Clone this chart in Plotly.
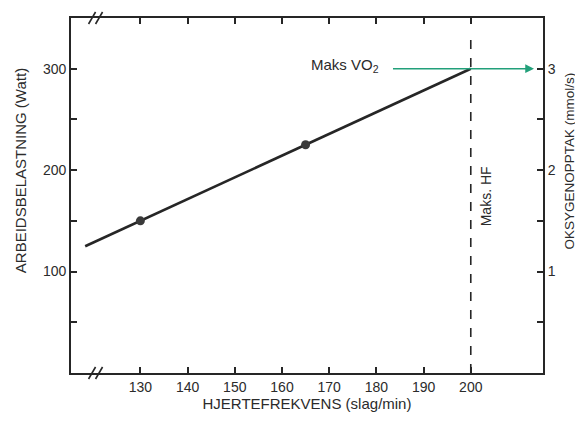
import plotly.graph_objects as go

# Data
line_hr = [118.3, 200]          # heart rate (slag/min)
line_watt = [125, 300]          # workload (Watt)
point_hr = [130, 165]
point_watt = [150, 225]
maxhf_x = [200, 200]
maxhf_y = [0, 330]
vo2_arrow_start = 183.2
vo2_arrow_end = 213.4
vo2_level = 300
break_x = 120.5

x_ticks = [130, 140, 150, 160, 170, 180, 190, 200]
y_ticks = [50, 100, 150, 200, 250, 300]
y_ticktext = ["", "100", "", "200", "", "300"]
y2_ticks = [0.5, 1, 1.5, 2, 2.5, 3]
y2_ticktext = ["", "1", "", "2", "", "3"]

FONT = "Liberation Sans, Arial, sans-serif"
DARK = "#262626"
TXT = "#2b2b2b"
GREEN = "#22a07a"

fig = go.Figure()
fig.add_trace(go.Scatter(x=line_hr, y=line_watt, mode="lines",
                         line=dict(color=DARK, width=2.6), showlegend=False))
fig.add_trace(go.Scatter(x=point_hr, y=point_watt, mode="markers",
                         marker=dict(color="#3a3a3a", size=9), showlegend=False))
fig.add_trace(go.Scatter(x=maxhf_x, y=maxhf_y, mode="lines",
                         line=dict(color=DARK, width=1.6, dash="dash"), showlegend=False))
# invisible trace for secondary axis
fig.add_trace(go.Scatter(x=[200], y=[3], yaxis="y2", mode="markers",
                         marker=dict(opacity=0), showlegend=False, hoverinfo="skip"))

fig.add_annotation(x=vo2_arrow_end, y=vo2_level, ax=vo2_arrow_start, ay=vo2_level,
                   xref="x", yref="y", axref="x", ayref="y", text="",
                   showarrow=True, arrowhead=2, arrowsize=1.1, arrowwidth=1.6,
                   arrowcolor=GREEN)
fig.add_annotation(x=vo2_arrow_start, y=vo2_level, xref="x", yref="y",
                   text="Maks VO<sub>2</sub>", showarrow=False, xanchor="right",
                   xshift=-10, yshift=3, font=dict(family=FONT, size=15, color=TXT))
fig.add_annotation(x=200, y=174, xref="x", yref="y", text="Maks. HF",
                   textangle=-90, showarrow=False, xanchor="left", xshift=5,
                   font=dict(family=FONT, size=14, color=TXT))
# axis break marks (two slashes across bottom and top axis lines)
for yp in [0, 1]:
    for dx in [-3.5, 3.5]:
        fig.add_shape(type="line", xref="x", yref="paper", xsizemode="pixel",
                      ysizemode="pixel", xanchor=break_x, yanchor=yp,
                      x0=dx - 3.5, x1=dx + 3.5, y0=-6, y1=6,
                      line=dict(color=DARK, width=1.6))
# y-axis titles
fig.add_annotation(x=-0.108, y=199, xref="paper", yref="y", text="ARBEIDSBELASTNING (Watt)",
                   textangle=-90, showarrow=False, xanchor="center", yanchor="middle",
                   font=dict(family=FONT, size=15, color=TXT))
fig.add_annotation(x=1.056, y=209, xref="paper", yref="y", text="OKSYGENOPPTAK (mmol/s)",
                   textangle=-90, showarrow=False, xanchor="center", yanchor="middle",
                   font=dict(family=FONT, size=13.5, color=TXT))

fig.update_layout(
    width=575, height=413,
    margin=dict(l=63, r=40, t=10, b=48, autoexpand=False),
    paper_bgcolor="white", plot_bgcolor="white",
    font=dict(family=FONT, size=14, color=TXT),
    xaxis=dict(range=[115.3, 215.3], tickvals=x_ticks, ticks="inside", ticklen=6,
               tickwidth=1.5, tickcolor=DARK, showline=True, linecolor=DARK,
               linewidth=1.8, mirror="ticks", showgrid=False, zeroline=False,
               automargin=False,
               title=dict(text="HJERTEFREKVENS (slag/min)", standoff=4,
                          font=dict(size=15)),
               tickfont=dict(size=14)),
    yaxis=dict(range=[0, 350], tickvals=y_ticks, ticktext=y_ticktext, ticks="inside",
               ticklen=6, tickwidth=1.5, tickcolor=DARK, showline=True,
               linecolor=DARK, linewidth=1.8, showgrid=False, zeroline=False,
               automargin=False, tickfont=dict(size=14)),
    yaxis2=dict(range=[0, 3.5], overlaying="y", side="right", tickvals=y2_ticks,
                ticktext=y2_ticktext, ticks="inside", ticklen=6, tickwidth=1.5,
                tickcolor=DARK, showline=True, linecolor=DARK, linewidth=1.8,
                showgrid=False, zeroline=False, automargin=False,
                tickfont=dict(size=14)),
)

fig.write_html("out.html")
